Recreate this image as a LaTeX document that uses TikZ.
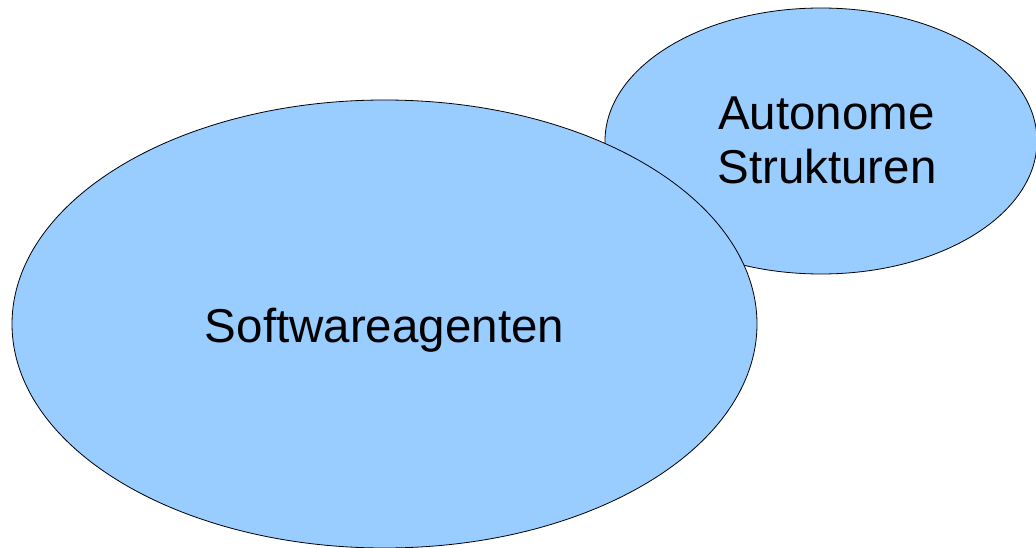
\documentclass[tikz,border=0pt]{standalone}
\usepackage{fontspec}
\setmainfont{Liberation Sans}
\usetikzlibrary{shapes.geometric}
\definecolor{blobblue}{HTML}{99CCFF}
\begin{document}
\begin{tikzpicture}[x=1pt,y=-1pt,
  blob/.style={ellipse, draw=black, line width=0.8pt, fill=blobblue, inner sep=0pt},
  lbl/.style={font=\fontsize{47.5pt}{54pt}\selectfont, align=center, inner sep=0pt, text=black}]
\useasboundingbox (0,0) rectangle (1036,548);
\node[blob, minimum width=432pt, minimum height=266pt] (auto) at (821,141) {};
\node[blob, minimum width=745pt, minimum height=448pt] (soft) at (384.5,324) {};
\node[lbl, anchor=base] (softlbl) at (384.5,342) {Softwareagenten};
\node[lbl, anchor=base] (autolbl1) at (826.5,130) {Autonome};
\node[lbl, anchor=base] (autolbl2) at (827,184) {Strukturen};
\end{tikzpicture}
\end{document}
